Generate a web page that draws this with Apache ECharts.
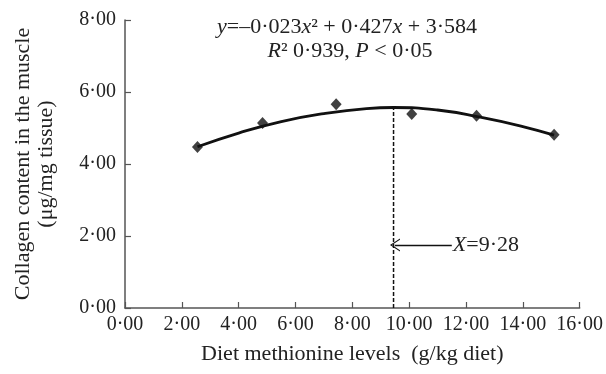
<!DOCTYPE html>
<html>
<head>
<meta charset="utf-8">
<script src="https://cdn.jsdelivr.net/npm/echarts@6/dist/echarts.min.js"></script>
<style>
  html, body { margin: 0; padding: 0; background: #fff; }
  #chart { width: 606px; height: 374px; }
</style>
</head>
<body>
<div id="chart"></div>
<script>
// observed means
const levels = [2.55, 4.84, 7.43, 10.09, 12.37, 15.1];
const collagen = [4.47, 5.14, 5.66, 5.39, 5.34, 4.81];

// fitted curve
const fitX = [2.55, 4, 5.5, 7, 8.5, 9.45, 11, 12.5, 14, 15.1];
const fitY = [4.48, 4.86, 5.18, 5.40, 5.54, 5.57, 5.50, 5.30, 5.04, 4.80];

// optimum marker
const optX = 9.45;
const optTop = 5.57;
const arrowY = 1.75;
const arrowStartX = 11.5;

const xTicks = [0, 2, 4, 6, 8, 10, 12, 14, 16];
const yTicks = [0, 2, 4, 6, 8];

const FONT = '"Liberation Serif", "DejaVu Serif", serif';
const fmt = (v) => v.toFixed(2).replace('.', '\u00b7');
const italic = { fontStyle: 'italic', fontFamily: FONT, fontSize: 22, color: '#222' };

const chart = echarts.init(document.getElementById('chart'), null, { renderer: 'canvas' });

chart.setOption({
  backgroundColor: '#fff',
  animation: false,
  textStyle: { fontFamily: FONT, color: '#222' },
  grid: { left: 125, right: 25, top: 20, bottom: 66 },
  xAxis: {
    type: 'value',
    min: xTicks[0],
    max: xTicks[xTicks.length - 1],
    interval: 2,
    name: 'Diet methionine levels  (g/kg diet)',
    nameLocation: 'middle',
    nameGap: 35,
    nameTextStyle: { fontFamily: FONT, fontSize: 22, color: '#222' },
    axisLine: { onZero: false, lineStyle: { color: '#555', width: 1.5 } },
    axisTick: { inside: true, length: 6, lineStyle: { color: '#555', width: 1.2 } },
    axisLabel: { formatter: fmt, fontFamily: FONT, fontSize: 20, color: '#222', margin: 7 },
    splitLine: { show: false }
  },
  yAxis: {
    type: 'value',
    min: yTicks[0],
    max: yTicks[yTicks.length - 1],
    interval: 2,
    name: 'Collagen content in the muscle\n(\u03bcg/mg tissue)',
    nameLocation: 'middle',
    nameGap: 67,
    nameTextStyle: { fontFamily: FONT, fontSize: 22, color: '#222', lineHeight: 23 },
    axisLine: { show: true, lineStyle: { color: '#555', width: 1.5 } },
    axisTick: { show: true, inside: true, length: 6, lineStyle: { color: '#555', width: 1.2 } },
    axisLabel: { formatter: fmt, fontFamily: FONT, fontSize: 20, color: '#222', margin: 9 },
    splitLine: { show: false }
  },
  graphic: [
    {
      type: 'text',
      x: 347,
      y: 27,
      style: {
        text: '{i|y}=\u20130\u00b7023{i|x}\u00b2 + 0\u00b7427{i|x} + 3\u00b7584',
        font: '22px ' + FONT,
        fill: '#222',
        align: 'center',
        verticalAlign: 'middle',
        rich: { i: italic }
      }
    },
    {
      type: 'text',
      x: 350,
      y: 51,
      style: {
        text: '{i|R}\u00b2 0\u00b7939, {i|P} < 0\u00b705',
        font: '22px ' + FONT,
        fill: '#222',
        align: 'center',
        verticalAlign: 'middle',
        rich: { i: italic }
      }
    }
  ],
  series: [
    {
      type: 'line',
      data: fitX.map((x, i) => [x, fitY[i]]),
      smooth: true,
      showSymbol: false,
      lineStyle: { color: '#111', width: 2.8 },
      z: 2
    },
    {
      type: 'scatter',
      data: levels.map((x, i) => [x, collagen[i]]),
      symbol: 'diamond',
      symbolSize: [11, 12],
      itemStyle: { color: '#111' },
      z: 3
    },
    {
      type: 'line',
      data: [[optX, 0], [optX, optTop]],
      showSymbol: false,
      lineStyle: { color: '#111', width: 1.5, type: [4, 2] },
      z: 1,
      markLine: {
        silent: true,
        symbol: ['none', 'path://M0,10 L5,0 L10,10 L9,10 L5,2 L1,10 Z'],
        symbolSize: [13, 10],
        lineStyle: { color: '#111', width: 1.3, type: 'solid' },
        label: {
          show: true,
          position: 'start',
          distance: 1,
          formatter: '{i|X}=9\u00b728',
          fontFamily: FONT,
          fontSize: 22,
          color: '#222',
          rich: { i: italic }
        },
        data: [[{ coord: [arrowStartX, arrowY] }, { coord: [optX + 0.05, arrowY] }]]
      }
    }
  ]
});
</script>
</body>
</html>
